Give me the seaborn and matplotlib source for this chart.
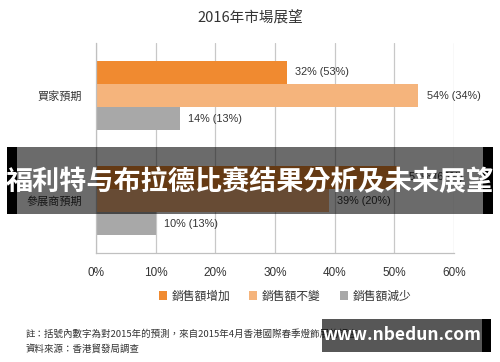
import matplotlib
matplotlib.use("Agg")
import matplotlib.pyplot as plt
import seaborn as sns
import pandas as pd
from matplotlib.patches import Patch

categories = ["買家預期", "參展商預期"]
series = ["銷售額增加", "銷售額不變", "銷售額減少"]
values_2016 = {
    "銷售額增加": [32, 51],
    "銷售額不變": [54, 39],
    "銷售額減少": [14, 10],
}
values_2015 = {
    "銷售額增加": [53, 68],
    "銷售額不變": [34, 20],
    "銷售額減少": [13, 13],
}
x_ticks = [0, 10, 20, 30, 40, 50, 60]
colors = ["#F08A30", "#F5B47C", "#A8A8A8"]

rows = []
for s in series:
    for c, v, p in zip(categories, values_2016[s], values_2015[s]):
        rows.append({"cat": c, "series": s, "value": v, "prior": p})
df = pd.DataFrame(rows)

sns.set_theme(style="white")
FAM = ["Noto Sans CJK TC", "DejaVu Sans"]
plt.rcParams["font.family"] = FAM

fig = plt.figure(figsize=(5, 3.62), dpi=100)
ax = fig.add_axes([0.192, 0.301, 0.716, 0.580])

sns.barplot(data=df, y="cat", x="value", hue="series", order=categories,
            hue_order=series, palette=colors, orient="h", width=0.66,
            saturation=1, ax=ax, legend=False, edgecolor="none")

for cont, s in zip(ax.containers, series):
    sub = df[df.series == s].set_index("cat").loc[categories]
    labels = [f"{v}% ({p}%)" for v, p in zip(sub.value, sub.prior)]
    ax.bar_label(cont, labels=labels, padding=6, fontsize=7.8, color="#333333",
                 family=["Liberation Sans"])

ax.set_xlim(0, 60)
ax.set_xticks(x_ticks)
ax.set_xticklabels([f"{t}%" for t in x_ticks], fontsize=8.5, color="#333333",
                   family=["Liberation Sans"])
ax.set_xlabel("")
ax.set_ylabel("")
ax.tick_params(axis="y", length=0, labelsize=8, labelcolor="#333333", pad=10)
ax.tick_params(axis="x", length=4, width=0.8, color="#BBBBBB", direction="out", pad=6)
ax.xaxis.grid(True, color="#C8C8C8", linewidth=0.9)
ax.set_axisbelow(True)
for side in ["top", "right"]:
    ax.spines[side].set_visible(False)
for side in ["left", "bottom"]:
    ax.spines[side].set_color("#C0C0C0")
    ax.spines[side].set_linewidth(0.9)

fig.text(0.5, 0.953, "2016年市場展望", ha="center", va="center", fontsize=10.5, color="#333333")

handles = [Patch(facecolor=c, edgecolor="none") for c in colors]
fig.legend(handles, series, loc="center", bbox_to_anchor=(0.57, 0.182), ncol=3,
           frameon=False, fontsize=8.5, handlelength=0.7, handleheight=0.7,
           handletextpad=0.4, columnspacing=1.6, labelcolor="#333333")

fig.text(0.052, 0.078, "註：括號內數字為對2015年的預測，來自2015年4月香港國際春季燈飾展的調查",
         fontsize=6.8, color="#333333", va="center")
fig.text(0.052, 0.036, "資料來源：香港貿發局調查", fontsize=6.8, color="#333333", va="center")

# overlay banner
fig.patches.append(plt.Rectangle((0.014, 0.409), 0.020, 0.186, transform=fig.transFigure,
                                 facecolor="black", edgecolor="none", zorder=5))
fig.patches.append(plt.Rectangle((0.966, 0.409), 0.020, 0.186, transform=fig.transFigure,
                                 facecolor="black", edgecolor="none", zorder=5))
fig.patches.append(plt.Rectangle((0.034, 0.409), 0.932, 0.186, transform=fig.transFigure,
                                 facecolor="black", edgecolor="none", alpha=0.58, zorder=6))
fig.text(0.5, 0.497, "福利特与布拉德比赛结果分析及未来展望", ha="center", va="center",
         fontsize=19.5, fontweight="bold", color="white", zorder=7)

# watermark
fig.patches.append(plt.Rectangle((0.964, 0.028), 0.018, 0.092, transform=fig.transFigure,
                                 facecolor="black", edgecolor="none", zorder=5))
fig.patches.append(plt.Rectangle((0.644, 0.028), 0.320, 0.092, transform=fig.transFigure,
                                 facecolor="black", edgecolor="none", alpha=0.66, zorder=6))
fig.text(0.803, 0.074, "www.nbedun.com", ha="center", va="center", fontsize=12.5,
         fontweight="bold", color="white", zorder=7)

fig.savefig("out.png", dpi=100)
